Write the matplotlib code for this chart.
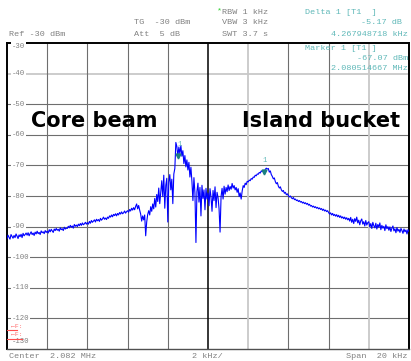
import numpy as np
import matplotlib.pyplot as plt
from matplotlib.transforms import blended_transform_factory

# spectrum analyser screen: 20 kHz span around 2.082 MHz, ref -30 dBm
freq_khz = np.linspace(-10, 10, 401)

level_dbm = [
    # -10 .. -9.05
    -93.9, -92.8, -93.5, -94.1, -92.6, -93.2, -93.8, -92.9, -93.6, -92.4,
    -93.1, -93.9, -92.7, -93.3, -92.5, -93.6, -92.2, -93.0, -92.6, -92.1,
    # -9 .. -8.05
    -92.8, -92.0, -93.0, -92.3, -91.7, -92.6, -92.1, -92.9, -91.8, -92.4,
    -91.5, -92.3, -91.9, -92.6, -91.4, -92.0, -91.7, -92.3, -91.3, -91.9,
    # -8 .. -7.05
    -91.5, -92.1, -91.0, -91.7, -90.9, -91.4, -91.9, -90.8, -91.3, -90.6,
    -91.2, -90.9, -91.5, -90.4, -91.0, -90.7, -91.3, -90.2, -90.8, -90.5,
    # -7 .. -6.05
    -90.6, -89.9, -90.4, -89.6, -90.2, -89.8, -90.5, -89.3, -89.9, -89.5,
    -90.0, -89.2, -89.7, -89.0, -89.6, -88.8, -89.4, -89.1, -88.6, -89.2,
    # -6 .. -5.05
    -88.7, -89.2, -88.3, -88.9, -88.0, -88.6, -88.2, -87.8, -88.5, -87.6,
    -88.1, -87.7, -88.3, -87.3, -87.9, -87.5, -86.9, -87.6, -87.2, -87.7,
    # -5 .. -4.05
    -86.9, -87.3, -86.5, -86.9, -86.2, -86.8, -86.0, -86.4, -85.8, -86.5,
    -85.7, -86.2, -85.4, -85.9, -85.2, -85.8, -85.5, -84.9, -85.6, -85.1,
    # -4 .. -3.05
    -84.8, -85.3, -84.4, -84.9, -84.0, -84.6, -83.8, -84.5, -83.4, -82.6,
    -84.2, -83.1, -84.6, -85.9, -88.2, -86.5, -87.8, -86.2, -93.0, -88.5,
    # -3 .. -2.05
    -86.0, -84.8, -86.2, -83.5, -85.0, -82.6, -84.2, -80.8, -83.6, -79.5,
    -81.8, -77.4, -82.5, -78.6, -75.0, -80.2, -73.2, -84.0, -76.5, -74.2,
    # -2 .. -1.05  (core peak)
    -88.5, -75.5, -73.0, -78.0, -74.5, -82.5, -72.8, -71.0, -62.5, -63.8,
    -67.07, -64.0, -66.2, -63.5, -67.0, -65.2, -69.4, -66.8, -70.5, -68.2,
    # -1 .. -0.05
    -71.5, -69.0, -73.8, -70.6, -75.2, -81.5, -74.0, -79.0, -95.2, -78.5,
    -75.8, -82.0, -77.2, -86.5, -76.5, -80.8, -78.0, -84.5, -77.5, -81.0,
    # 0 .. 0.95
    -79.0, -83.2, -77.6, -80.4, -85.0, -78.2, -81.5, -77.0, -83.8, -78.8,
    -80.5, -84.2, -91.8, -80.2, -77.5, -81.0, -76.8, -79.4, -77.2, -78.6,
    # 1 .. 1.95
    -76.4, -78.2, -76.9, -77.8, -75.9, -77.4, -76.6, -78.0, -77.2, -78.8,
    -77.6, -80.2, -79.0, -81.0, -78.4, -76.6, -77.2, -75.8, -76.3, -75.2,
    # 2 .. 2.95  (island bucket)
    -75.4, -74.8, -75.0, -74.3, -74.5, -73.8, -73.9, -73.2, -73.4, -72.8,
    -72.9, -72.3, -72.5, -71.8, -72.0, -71.6, -72.24, -71.3, -70.9, -71.2,
    # 3 .. 3.95
    -71.0, -72.2, -71.8, -73.0, -73.6, -74.4, -74.1, -75.3, -76.0, -75.6,
    -76.8, -77.4, -77.0, -78.0, -78.5, -78.2, -79.1, -78.8, -79.6, -79.3,
    # 4 .. 4.95
    -79.9, -80.3, -80.0, -80.6, -80.9, -80.5, -81.2, -81.0, -81.5, -81.3,
    -81.8, -81.5, -82.0, -81.8, -82.3, -82.0, -82.5, -82.2, -82.7, -82.4,
    # 5 .. 5.95
    -83.0, -82.7, -83.3, -83.1, -83.6, -83.3, -83.8, -83.5, -84.0, -83.7,
    -84.2, -83.9, -84.4, -84.1, -84.7, -84.3, -84.9, -84.6, -85.1, -84.8,
    # 6 .. 6.95
    -85.4, -85.9, -85.5, -86.2, -85.7, -86.4, -86.0, -86.6, -86.1, -86.8,
    -86.3, -87.0, -86.5, -87.2, -86.8, -87.4, -86.9, -87.6, -87.1, -87.8,
    # 7 .. 7.95
    -87.3, -88.2, -87.0, -88.6, -87.6, -89.0, -87.4, -88.3, -86.9, -88.8,
    -87.9, -89.4, -88.1, -87.5, -89.2, -88.4, -89.8, -88.0, -89.5, -88.7,
    # 8 .. 8.95
    -88.4, -90.1, -89.0, -90.6, -88.6, -89.7, -90.4, -88.9, -90.8, -89.3,
    -90.2, -88.8, -91.0, -89.6, -90.5, -89.9, -91.3, -89.4, -90.7, -90.0,
    # 9 .. 10
    -91.2, -90.1, -91.6, -90.5, -89.8, -91.4, -90.7, -92.0, -90.3, -91.5,
    -90.9, -91.9, -90.6, -91.3, -92.2, -90.8, -91.7, -91.1, -92.4, -91.0,
    -91.6,
]
assert len(level_dbm) == len(freq_khz)

# marker 1 and delta marker (relative to centre, kHz / dBm)
marker_khz = -1.485
marker_dbm = -67.07
delta_khz = 4.267948718
delta_db = -5.17

y_ticks = [-30, -40, -50, -60, -70, -80, -90, -100, -110, -120, -130]
x_grid = [-8, -6, -4, -2, 0, 2, 4, 6, 8]

GRAY = '#808080'
CYAN = '#5fb8b8'
MONO = 'Liberation Mono'

fig = plt.figure(figsize=(4.11, 3.61), dpi=100)
ax = fig.add_axes([7 / 411, 12 / 361, 402 / 411, 306 / 361])
ax.set_xlim(-10, 10)
ax.set_ylim(-130, -30)
ax.set_xticks([])
ax.set_yticks([])

# graticule
for y in y_ticks[1:-1]:
    if y == -40:
        ax.axhline(y, color='#c8c8c8', lw=1.3, zorder=1)
    else:
        ax.axhline(y, color='#6e6e6e', lw=0.8, zorder=1)
for x in x_grid:
    if x == 0:
        ax.axvline(x, color='black', lw=1.1, zorder=1)
    elif x in (2, 8):
        ax.axvline(x, color='#c8c8c8', lw=1.3, zorder=1)
    else:
        ax.axvline(x, color='#6e6e6e', lw=0.8, zorder=1)

for side in ('left', 'top', 'right'):
    ax.spines[side].set_color('black')
    ax.spines[side].set_linewidth(1.4)
ax.spines['bottom'].set_color('#505050')
ax.spines['bottom'].set_linewidth(1.0)

# level labels inside the left edge
tr = blended_transform_factory(ax.transAxes, ax.transData)
for y in y_ticks:
    if y == -30:
        yy = -31.0
    elif y == -130:
        yy = -127.7
    else:
        yy = y
    ax.text(0.012, yy, str(y), transform=tr, ha='left', va='center',
            fontsize=5.2, family=MONO, color=GRAY, zorder=3,
            bbox=dict(facecolor='white', edgecolor='none', pad=0.5))

# trace
ax.plot(freq_khz, level_dbm, color='#0000ff', lw=0.8, zorder=4)

# markers
m2_khz = marker_khz + delta_khz
m2_dbm = marker_dbm + delta_db
ax.plot([marker_khz, m2_khz], [marker_dbm, m2_dbm], 'v', color='#1a7f7f',
        ms=3.5, zorder=5)
for mx, my in ((marker_khz, marker_dbm), (m2_khz, m2_dbm)):
    ax.text(mx + 0.05, my + 2.6, '1', ha='center', va='bottom', fontsize=5.2,
            family=MONO, color=CYAN, zorder=5)

# display line flags near the bottom
for yy, x_end in ((-123.8, 0.5), (-126.7, 0.75)):
    ax.plot([-10, -10 + x_end], [yy, yy], color='#ff5050', lw=0.8, zorder=5)
    ax.text(-9.8, yy + 1.3, '←F:', ha='left', va='center', fontsize=4.6,
            family=MONO, color='#ff6a6a', zorder=5)

# labels
ax.text(-8.8, -57.6, 'Core beam', ha='left', va='baseline', fontsize=15.0,
        fontweight='bold', family='DejaVu Sans', color='black', zorder=6)
ax.text(1.7, -57.6, 'Island bucket', ha='left', va='baseline', fontsize=15.0,
        fontweight='bold', family='DejaVu Sans', color='black', zorder=6)


# header and footer annotations (pixel positions from the top-left)
def ftxt(x, y, s, ha='left', color=GRAY, size=6.1):
    fig.text(x / 411, 1 - y / 361, s, ha=ha, va='center', fontsize=size,
             family=MONO, color=color)


ftxt(9, 34, 'Ref -30 dBm')
ftxt(134, 23, 'TG  -30 dBm')
ftxt(134, 34, 'Att  5 dB')
ftxt(216, 11, '*', color='#30d030')
ftxt(222, 12, 'RBW 1 kHz')
ftxt(222, 23, 'VBW 3 kHz')
ftxt(222, 34, 'SWT 3.7 s')
ftxt(305, 12, 'Delta 1 [T1  ]', color=CYAN)
ftxt(402, 23, f'{delta_db:.2f} dB', ha='right', color=CYAN)
ftxt(408, 34, f'{delta_khz:.9f} kHz', ha='right', color=CYAN)
ftxt(305, 49, 'Marker 1 [T1 ]', color=CYAN)
ftxt(408, 59, f'{marker_dbm:.2f} dBm', ha='right', color=CYAN)
ftxt(408, 69, '2.080514667 MHz', ha='right', color=CYAN)

ftxt(9, 357, 'Center  2.082 MHz')
ftxt(207, 357, '2 kHz/', ha='center')
ftxt(407, 357, 'Span  20 kHz', ha='right')

fig.savefig('out.png', dpi=100)
